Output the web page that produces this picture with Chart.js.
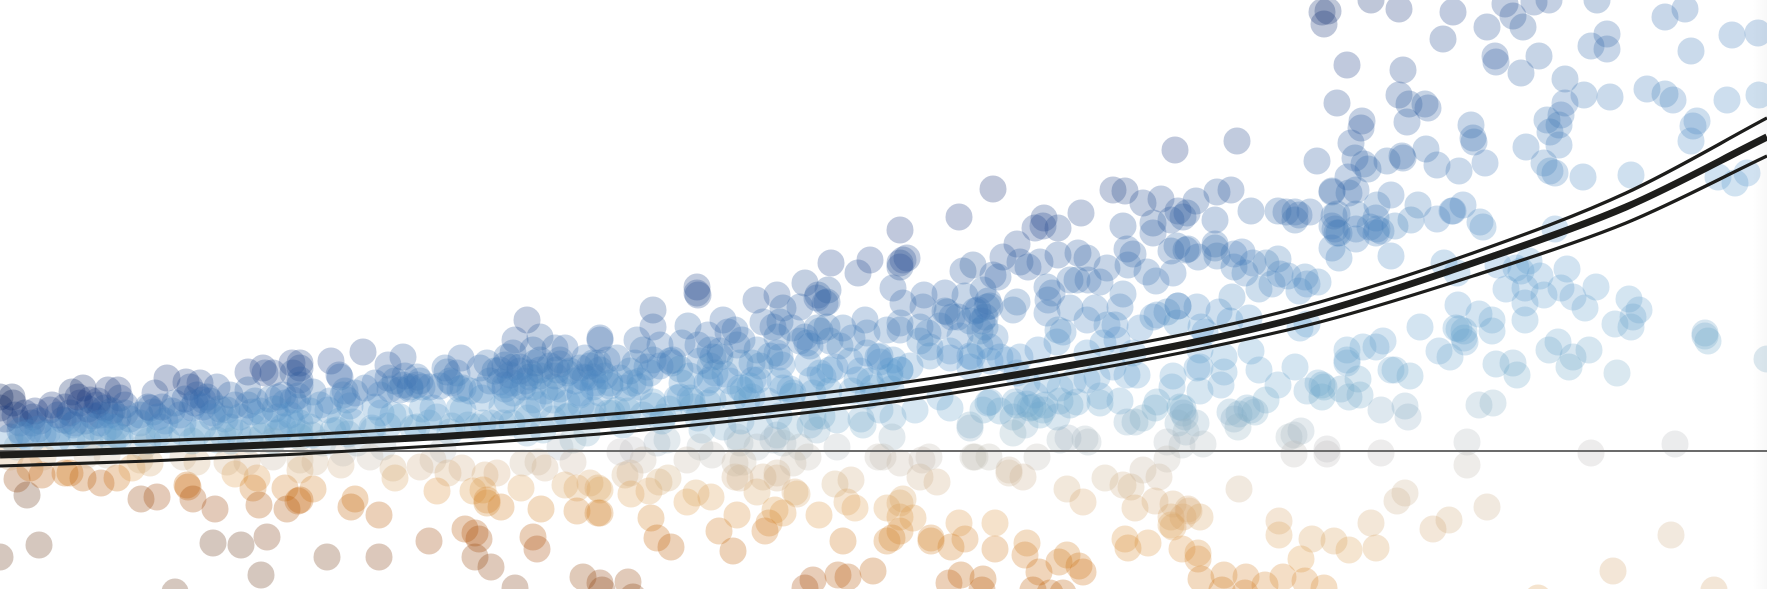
<!DOCTYPE html>
<html>
<head>
<meta charset="utf-8">
<title>Scatter with fitted curve</title>
<script src="https://cdn.jsdelivr.net/npm/chart.js@4"></script>
<style>
    html, body { margin: 0; padding: 0; width: 1767px; height: 589px; overflow: hidden; }
    body { background: linear-gradient(to right, #ffffff 99.2%, #f8f8f8 100%); }
    #wrap { width: 1767px; height: 589px; }
</style>
</head>
<body>
<div id="wrap"><canvas id="scatter-chart"></canvas></div>
<script>
// values, hidden axes run 0..176.7 and -13.8..45.1
const aboveX1 = [16.7,7.2,8.3,10.8,7.8,11.8,12,1.2,1.3,0,0,5.2,5,3.3,3.2,2,6.3,7.3,9,9.7,10,11,12.5,15,15.5,15.3,17.5,18.6,20,21.7,19,19.7,20.3,19.2,20.7,23,22.7,21.3,24.8,26.3,26.5,27.3,29.2,29.3,24.8,25.2,27.8,28.3,27.8,29.3,30,29.8,18.3,16,14,11.7,9.3,4.7,1,20.3,23,25.3,28.3,27.7,30,5.7,12,16.7,21.7,25,9,1.7,14.3]
const aboveY1 = [7.3,5.9,6.3,6.1,5.4,6.1,5.3,5.4,4.8,5.4,4.3,4.6,4.1,3.4,2.8,2.8,3.1,2.6,5.1,4.6,3.6,3.6,4.6,4.3,5.8,3.9,4.8,6.9,6.8,6.4,6.4,5.6,5.1,4.3,5.4,5.6,4.1,3.8,7.9,8.3,7.8,7.8,8.8,7.8,6.1,3.9,5.4,5.6,3.4,5.1,6.6,4.4,2.8,2.4,2.8,2.4,2.4,1.8,1.4,2.4,2.4,2.4,2.4,1.8,1.4,1.1,1.4,1.1,1.1,1.1,0.8,0.4,0.4]
const aboveX2 = [52.7,46.1,36.3,33.1,40.3,38.8,33.9,34,30,30,34.5,34.3,34.7,37.5,38.8,40,40.3,41,41.7,42.2,41.7,44.5,44.7,45.7,45.2,46.3,48,51.5,54,51.3,50.7,53.3,55.5,56.5,54,56,60,58.5,59.3,59.8,50,51.3,52,48.7,50.5,51.3,50,53,54,55.7,56.7,58.3,59.3,50.7,48.2,48.2,51.3,53.3,55.3,59.3,58,55.3,53.3,52.7,56.7,59.3,31.3,32,30,32.8,35.3,39.3,40,43.3,43.7,46.3,48.3,50.3,54.3,56.7,58.7,52.7,45,41.7,37.3,33.7,31,30,47.7,56,57.3,38.3,35.7,32.3,44.3]
const aboveY2 = [13.1,9.3,9.9,9,9.4,8.6,7.6,7.4,8.3,8.8,6,5.6,5.1,4.4,7.3,6.1,6.6,6.4,6.6,6.4,7.4,8.3,7.9,7.8,6.8,6.3,8.3,11.1,11.4,9.8,9.4,10.1,10.3,10.3,9.1,9.1,11.3,9.3,8.8,8.8,8.1,8.4,8.4,8.8,6.6,6.8,6.9,7.4,8.1,8.1,7.8,7.4,7.4,5.1,6.1,5.3,5.8,6.4,6.4,6.4,5.6,5.1,5.1,4.1,4.8,4.1,5.9,4.6,7.1,4.1,2.9,3.6,3.4,4.3,3.4,4.1,2.8,2.8,2.1,3.4,1.8,1.8,1.9,2.4,2.1,2.1,2.4,2.8,2.4,0.4,1.1,0.4,0.8,0.8,0.1]
const aboveX3 = [69.7,69.7,69.8,65.3,65.3,60,63.7,68.8,66,68.2,69.8,70.8,72.3,72.8,73.5,75.6,77.7,78.3,80.5,81.8,82.8,83.1,85.8,87,89.3,90,80,82.5,82.7,81.7,76.3,77.3,78,79.2,77.7,80.5,81.7,82.7,80.7,77.7,78,84.3,86.5,86.7,88.7,85.2,90,86.7,88,89.3,87.8,90,75.7,74.2,73.7,72,71.3,71,71.5,71,74,75.2,75.3,67.2,67.3,65.3,63.5,64.7,64.3,60.7,60,61.7,63.3,61,62.5,64,60,68.2,68,69,70.7,74.3,75.8,78.2,78.3,79.3,80.8,82,83,83.5,82.3,81.2,85.7,87.3,90,89,65.3,62.8,67.7,71.3,74.7,60.8,61.7,64.3,66.3,69.3,72.3,73.7,76,77.7,79,81,81.7,86.3,83.7,81.3,89.3,88,89.2,83.7,65.7,66.7,63.3,70.2,70,74,75.7,78.3,77.3,80]
const aboveY3 = [16.4,15.8,15.6,14.1,12.4,11.1,11.1,12.5,10.6,10.8,10.6,11.6,13.1,11.9,12.1,15.1,15.6,14.3,16.8,15.6,16.1,18.8,17.8,19.1,16.3,18.4,14.4,14.8,14.9,15.3,12.9,12.4,12.9,12.3,11.4,11.4,12.3,12.4,10.8,9.8,9.4,12.3,13.1,11.8,12.1,11.3,12.1,9.8,8.9,9.1,9.4,8.1,10.1,11.1,10.6,9.4,9.4,10.1,7.8,7.1,8.8,8.8,7.1,8.8,9.1,9.1,8.8,8.4,10.1,9.1,8.1,9.3,6.8,6.8,6.3,6.4,5.8,6.8,5.4,5.3,6.8,6.1,7.1,8.6,6.3,5.8,8.8,7.8,8.1,8.4,7.4,7.1,7.1,6.3,8.1,7.4,4.9,5.1,5.3,5.1,5.1,3.8,4.1,3.6,3.4,4.4,2.4,1.4,2.4,1.6,2.4,2.6,2.1,2.6,3.1,3.4,3.4,4.1,1.4,0.4,0.8,1.1,0.1,2.1,0.4,0.8,0.4,0.8,1.1,0.4]
const aboveX4 = [90,99.3,95.9,90.3,90.7,90,111.3,112.5,114.3,116.1,108.1,104.4,104.3,105.8,103.5,112.3,115.3,115.3,118.3,118.7,101.7,100.3,102,104,102.8,105.8,107.8,108.7,112.7,113.3,112.8,117.1,117.7,118.8,119.8,110.7,96.3,97.3,99.3,99.8,114.7,115.6,117.3,107.7,108.8,110,104.7,107,112.3,112,109.5,108.7,110.7,111.5,107,104.8,104.7,105.8,106.3,105.2,101.7,101.3,98.3,98.7,98.5,97.8,98.5,99.5,99,95.2,94.5,92.4,92.3,90.3,94.7,95.8,92,92.8,90,93,95,97.2,97,100,100.8,102,103.8,105.7,108.7,110.3,114,115.3,115.7,117.7,111.7,113.3,120,119.7,120,117.2,113.7,112.7,109.7,108.7,107.3,106,104.7,102.7,101.7,111.3,110,107.7,115.5,115.7,118.3,118,118.3,118.5,113.5,114.3,112.7,108.5,108.8,106,106.8,105.7,104.3,103.3,101.7,102.5,101.3,98.3,97,98.8,95,97,91.5,94,101.3]
const aboveY4 = [22.1,26.2,23.4,19.1,19.3,18.8,26.1,26,24.8,25.2,23.8,23.3,22.5,22.3,22.3,22.5,22.8,21.8,23.4,23.8,20.7,19.4,18.9,18.9,18.4,19.6,19.8,19.3,20.2,19.7,18.6,20,20.5,20.2,19.4,18.3,18,18.6,17.6,17.4,17.9,17,17.8,17.1,17.1,16.9,16.4,17.1,15.7,14.4,14.3,13.1,12.6,12.6,14.3,15.1,13.8,12.1,11.9,15.8,14.9,14.1,16.1,14.4,13.4,14.1,12.4,11.4,10.4,13.4,15.8,15.6,14.4,14.8,13.9,13.4,12.4,11.8,12.8,10.4,9.3,9.4,8.4,9.4,9.1,9.4,10.1,10.9,9.8,10.8,12.3,13.4,13.6,12.8,11.1,9.8,10.1,14.4,8.4,6.4,7.6,7.6,7.4,7.1,6.9,6.3,7.1,6.8,7.8,8.4,4.8,4.9,4.3,4.9,4.3,4.4,3.8,3.4,2.9,3.3,2.9,1.2,0.9,1.1,1.3,3.4,4.1,4.4,4.6,2.6,3.4,4.1,2.6,4.8,4.3,2.3,4.1,5.4,1.8,1.6,5.8]
const aboveX5 = [132.2,132.8,132.4,137.1,139.9,145.3,144.3,153.4,154.9,159.7,166.5,168.5,150.5,148.7,151.3,152.3,153.9,149.6,149.5,152.1,156.5,159.1,160.7,160.7,173.2,175.8,169.1,175.9,172.7,164.7,167.3,166.5,169.7,169.3,169.1,158.4,161,156.1,155.9,156.5,154.7,155,155.9,152.6,154.4,155,155.5,158.3,163.1,171.8,173.5,174.7,134.7,140.3,133.7,139.9,140.9,140.7,142.5,142.8,136.2,136.1,135.1,123.7,117.5,131.7,147.1,147.3,147.4,148.5,142.6,143.7,145.9,140.2,140.3,138.7,135.5,136.4,136.8,134.8,133.2,135.6,139.1,141.8,141.1,137.7,143.7,145.2,146.3,145.3,148,148.3,135.6,133.2,135.6,135.6,133.9,134.9,133.2,121.7,123.1,129.5,129.9,137.7,138.1,137.6,139.5,133.7,133.4,133.9,133.2,133.7,121.5,118.6,124.2,123.4,121.7,125.3,126.6,127.8,128,130.5,131.8,130.7,129.9,128.8,127.2,125.9,124.5,123.4,121.5,119.6,117.8,117.1,121.5,125.1,127.8,128.6,131,129.5,133.5,137,139.1,137.6,144.4,145.7,151.6,154,152.9,152.1,156.7,159.6,162.9,152.5,155.5,149.8,145.8,152.5,154.4,156.1,157.3,158.5,163.9,163.3,161.5,163.1,170.5,170.5,170.8,176.7,154.9,157.3,156.9,151.3,149.2,147.9,142,145.9,146.4,149.2,150.6,152.5,146.4,155.8,158.9,143.9,145,145.6,146.5,149.6,139.1,141,139.5,138.3,136.3,134.7,137.6,130.7,130,129.5,125.1,123,120.5,121.9,120.1,117.8,117.8,116.7,123.2,124.9,125.9,119.7,117.3,122.4,122.1,120,122.4,134.7,134.7,132.4,127.8,130.7,132.2,131.8,134.1,135.8,136,138.1,140.8,140.5,134.9,132.2,126.6,124.7,123,123.4,123.8,125.5,125.1,123.9,119.6,118.2,117.8,118.6,116.7,120.3,129.4,128.9,130.1,147.9,149.3,151.7,161.7,159.1,167.5,146.7,132.7,138.1,129.4,132.7]
const aboveY5 = [43.9,44,42.7,45.1,44.2,43.9,41.2,44.9,45.1,45.1,43.4,44.2,44.7,42.4,43.5,42.4,39.5,38.9,39.5,37.8,37.2,40.5,40.2,41.7,41.6,41.8,40,35.6,35.1,36.2,35.1,35.7,33,32.5,31,35.6,35.4,33.6,32.6,34.8,33.1,31.9,30.6,30.4,28.8,28,27.8,27.4,27.6,27.4,26.8,27.8,38.6,38.1,34.8,35.6,34.7,32.9,34.7,34.3,33,32.3,30.8,31,30.1,29,32.6,31.3,30.9,28.8,30.2,28.6,28,29.5,29.3,29,29.3,28.7,28.2,27.4,25.9,26.1,25.6,24.6,23.1,24.6,23.2,24,24.6,24,22.9,22.4,23.7,22.5,22.2,21.2,19.3,25.8,26,25.9,26.1,23.9,23.6,22.2,22,23.3,22.5,23.7,23.5,21.8,20.3,21.8,20.3,20.1,19.9,19.7,19.5,18.8,18.8,19.2,17.7,17.4,16.9,16.7,16,17.5,16.7,16.2,17.8,18.4,20.7,25,24,23.1,23.1,24,24,23.9,23.9,23.1,22.2,22.4,19.5,21.8,18.8,17.8,18.3,17.5,19,18,18.2,16.4,15.2,14.8,22.2,18.6,14.6,16.3,15.6,16.3,15.4,14.3,14.1,13.4,12.7,12.4,11.8,11.5,11,9.2,10.1,9.4,8.4,8.8,12,13.7,12.4,12.2,11.3,13.1,16.2,13.1,12,10.9,10.1,10,9.4,12.3,10.9,8.7,8.1,7.5,8.1,11,10.4,9.1,10.4,12.7,12.3,8.4,10,13,11.9,13.9,12.4,14.5,14.5,13.9,15.4,13.3,8.1,8.3,7.5,7.9,6.6,6,9.4,10.1,8.8,6.4,6.6,6,6.6,6.8,6.2,7.2,5.6,4.1,3.4,4.5,5.4,5.4,5.1,4.3,3.9,3.2,2.4,3.9,4.1,3.7,2.8,0.6,2.8,1.9,0.9,0.7,1.6,1.4,2,4.6,4.8,7.6,7.8,-0.2,0.7,0.9,-0.3]
const lowerX = [0,3.9,2.7,1.7,3,4.2,6.5,7,8.3,10.1,11.7,13.2,15,14.1,15.7,18.7,18.8,19.3,21.5,23.5,25.7,25.3,25.9,28.5,28.7,29.8,21.3,24.1,26.7,26.1,17.5,18.3,19.7,22.7,24.7,27.3,30,4.3,1,10.7,14,8.7,30,31.3,30,35.5,35.1,37.9,39.5,39.3,34.1,31.5,37,34.3,42,43.3,44.8,43.7,46.2,47.3,48.5,49.7,48.3,48.7,48.7,50.1,52.1,52.3,53.8,54.5,57.3,54.1,56.5,57.7,59,59.8,57.7,59.8,42.9,46.5,47.5,47.9,47.5,49.1,53.3,53.7,32.7,37.9,51.5,58.3,60,60,60,62.5,63,63.1,64.9,65.9,66.8,65.1,65.7,67.1,68.7,69.6,71.1,71.9,73.7,73.3,74,75.7,76.3,77.7,79.5,79.7,77.7,77.5,78.3,76.9,76.5,84.3,85.1,83.5,84.7,85.5,81.9,88.7,88.7,90,90,89.2,73.5,81.3,83.8,84.8,87.3,80.5,60.2,62.8,63.3,64.3,68.7,71.2,73.5,74.3,80.8,79.3,88.3,87.8,62,97.5,97.3,98.9,100.9,100.9,92.2,92,90,103.7,102.3,106.7,108.3,110.5,112.3,113.1,114.3,115.9,93.7,92.9,90.3,90,91.3,93.1,93.1,96.5,99.5,99.5,95.9,95.1,102.5,103.9,102.7,106.7,105.9,107.9,108.3,112.5,114.8,113.5,115.5,117.3,117.1,118.8,117.1,118.3,119.8,119.8,112.8,98.3,98.2,96.1,94.9,103.3,106.3,105,124.5,123.9,117.3,118.9,120,118.2,130.1,127.9,127.9,131.2,133.4,134.9,139.7,140.5,137.1,143.3,144.9,148.7,137.6,167.1,161.3,171.4,120.1,122.4,124.6,126.5,128.3,130.5,132.4,122.2,153.8,129.4,132.7,138.1,146.7,116.7]
const lowerY = [-10.6,-9.4,-4.4,-2.8,-1.7,-2.4,-2.2,-2.2,-2.7,-3.2,-2.7,-1.7,-1.2,-4.8,-4.6,-3.4,-3.6,-4.8,-5.8,-2.3,-2.7,-3.7,-5.4,-3.7,-5.8,-5,-9.2,-9.4,-8.6,-12.4,-14.1,-0.6,-1.1,-1.1,-1.1,-0.6,-1.9,-0.6,-0.6,-0.4,-0.9,-0.4,-0.9,-3.8,-4.9,-4.8,-5.6,-6.4,-2.7,-1.7,-1.4,-1.1,-0.6,-0.2,-1.6,-0.9,-2.2,-4,-1.7,-4,-2.4,-2.2,-3.9,-4.9,-5.2,-5.6,-3.7,-1.2,-1.1,-1.7,-1.1,-5.8,-3.4,-3.7,-3.2,-3.7,-6,-6.2,-9,-7.8,-8.2,-8.8,-10.6,-11.6,-8.6,-9.8,-10.6,-10.6,-13.7,-12.6,-13.2,-3.9,-6.2,-2.4,-2.2,-4.3,-4,-3.1,-2.7,-6.7,-8.7,-9.6,-5.1,-4.2,-4.6,-8,-6.4,-10,-2.7,-4.1,-2.6,-2.2,-4.1,-4.3,-2.7,-5.9,-6.2,-7.2,-8,-9,-2.9,-3.3,-5.1,-5.7,-6.4,-9,-5.7,-8,-6.6,-8.7,-2.6,-12.9,-12.4,-12.6,-12,-13.7,-13.9,-13.1,-14.6,-0.9,-0.9,-0.4,-1.2,-1.1,-0.6,-1.2,-0.6,-0.6,-0.1,-0.6,-0.6,-0.6,-1.9,-2.2,-0.9,-2.6,-1.2,-0.6,-2.6,-3.8,-5.1,-2.7,-3.4,-3.6,-1.9,-2.6,-3.1,-0.6,-4.8,-5.2,-6.7,-8.7,-9,-8.8,-9.8,-7.2,-7.2,-9.6,-10.4,-12.1,-9.2,-10.4,-11.1,-11.5,-12.1,-8.8,-9.2,-5.7,-5,-7.6,-7.4,-5.8,-6.6,-6.6,-10.2,-10.8,-9.7,-12.8,-13.9,-12.4,-13.2,-13.9,-14.2,-14.2,-14.2,-3.8,-5.3,-6,-6.6,-9.8,-10.8,-7,-8.4,-8.8,-9,-9.9,-5,-4.2,-7.2,-7.8,-6.9,-5.6,-9.7,-8.4,-12,-13.9,-12.8,-12.4,-12.6,-13.4,-12.6,-13,-13.7,-13.9,-14.7,-0.3,0.2,-0.2,-1.4,-0.8]
// the crowded band, where single points can only be estimated
const bandX = [0.5,1.5,2.5,2,3.5,4,2.8,3.8,6.5,7,8,8.8,9.3,9.8,10.5,11.2,11.8,12.5,13,5.8,6.8,7.5,8.5,10,11,14,14.8,15.8,16.5,16.2,17.2,18,18.5,19.5,20.3,21,21.2,22,22.5,23.5,24,24.8,25.5,26,26.5,27,27.5,28.5,29,29.8,29.2,2.2,4.3,5.8,8.1,10.3,11.8,14.2,15.9,18.2,19.7,22.3,23.8,26.2,27.9,30,3.1,7.2,11.3,14.8,19.2,23.1,27.3,31,33,35,35.5,36.5,37.5,38,39,39.5,40.5,41,42,43,44,45,46,47,49,49.5,50.5,51,52,52.5,53,53.5,54,55,55.5,56,57,57.5,58,58.5,59,59.5,50.5,52.3,54.5,56,58,31.2,33.3,34.8,37.2,38.8,41.3,42.9,45.2,46.8,49.1,51.2,52.8,55.3,56.8,59.2,34,38.1,42.2,45.9,50.2,53.9,58.1,60.5,61,62,63,64,65,66,67,68,69,70,71,72,72.5,73,74,75,76,77,78,79,80,81,82,83,84,85,86,87,88,89,61.2,62.8,65.3,66.9,69.2,70.8,73.3,75.2,76.8,79.2,81.3,82.9,85.2,86.8,89.1,62.3,66.2,69.8,74.1,77.9,82.2,86.1,97.5,98.2,98.8,98,99,97,100,103,107,110,104,112,101.5,102.7,104.5,99,106,103.5,92,94,96,98,93,95,97,99,91,94.5,96.5]
const bandY = [3.2,3.6,3.8,2,4,3,1.8,2.2,4.4,3.8,4.8,4.2,3.5,5,4.3,4,3.4,3.8,3.2,3.6,3,2.8,3,2.8,2.4,3.6,4.4,3.4,3,4.4,4,3.6,5.2,4.8,4.4,5,3.4,4.2,3.2,4.6,3.4,4.6,5,4,3,5.2,4.2,4.8,3.6,5.5,2.8,1.6,1.7,1.9,1.6,1.8,1.5,1.8,1.7,1.9,1.7,1.6,1.8,1.5,1.9,1.8,1,1,0.9,1,1,1,1,4,5,4.5,5.8,6.3,6.8,5.6,6.2,7,7.5,6.2,7,6.4,6.5,7,6.2,6,7,8,8.6,7.6,8,7,7.8,8.8,7.5,8.5,7.5,8.7,8,7,8.3,7.3,8.5,6.8,6.2,6.4,6,6.2,5.8,1.6,2,1.7,2.3,2.5,2.3,2.8,2.5,2.6,2.8,2.8,3.3,3.2,3.5,3.5,3,3.8,4.2,4.2,4.4,4.6,4.6,7.5,6.5,7.3,8,7,7.8,8.5,9,8.2,7.5,9,8.5,10,7.7,7,6.3,6.5,8.5,9.5,7,6.2,11,10.5,12,11,10.5,9,8,7,9.5,8,3.8,4,4.5,4.2,5,4.8,5.2,5.4,5,5.5,5.8,6,6,5.5,6.2,2.6,3,3.3,3,3.5,3.5,3.2,14,13,15,12,14.5,13,4,4.3,4.6,5.5,3.6,5,4.9,4.7,4.6,4.9,5,5.6,11,12.5,11.5,10.5,9.5,10,9.5,9,8.5,14,15.5]

const curveX = [0,15,30,45,60,75,90,105,120,132,147.3,162.6,176.7]
const fitValues = [-0.4,0.1,0.75,1.5,2.6,4,5.8,8.2,11,13.9,18.8,24.4,31.4]
const upperBand = [0.5,1,1.6,2.5,3.6,5,6.8,9.2,12,14.9,19.8,25.8,33.3]
const lowerBand = [-1.5,-1,-0.3,0.6,1.7,3.2,5,7.4,10.2,12.9,17.5,22.8,29.5]
const zeroX = [0,176.7]
const zeroY = [0,0]

// point colour runs from brown through grey to navy, by value against a spread that widens to the right
const colourStops = [
    [-0.8, [105,55,22]], [-0.5, [158,65,0]], [-0.35, [198,98,0]], [-0.2, [222,155,72]], [-0.07, [205,178,145]],
    [0, [188,188,188]], [0.1, [112,168,202]], [0.25, [88,152,205]], [0.5, [48,98,165]], [0.7, [28,58,128]], [1, [8,32,90]]
]

function pointColour(x, y) {
    const over = Math.max(0, x - 100)
    let t = y * 10 / (45 + 3 * x + 0.1 * over * over)
    t = Math.max(-0.8, Math.min(1, t))
    for (let i = 1; i < colourStops.length; i++) {
        if (t <= colourStops[i][0]) {
            const [t0, c0] = colourStops[i - 1]
            const [t1, c1] = colourStops[i]
            const f = (t - t0) / (t1 - t0)
            const c = c0.map((v, k) => Math.round(v + (c1[k] - v) * f))
            return `rgba(${c[0]},${c[1]},${c[2]},0.28)`
        }
    }
    return 'rgba(8,32,90,0.28)'
}

function zip(xs, ys) {
    return xs.map((x, i) => ({x: x, y: ys[i]}))
}

const points = [
    ...zip(aboveX1, aboveY1), ...zip(aboveX2, aboveY2), ...zip(aboveX3, aboveY3),
    ...zip(aboveX4, aboveY4), ...zip(aboveX5, aboveY5), ...zip(lowerX, lowerY),
    ...zip(bandX, bandY)
]

function curveDataset(label, values, width) {
    return {
        type: 'line',
        label: label,
        data: zip(curveX, values),
        borderColor: '#1d1d1b',
        borderWidth: width,
        cubicInterpolationMode: 'monotone',
        pointRadius: 0,
        fill: false,
        order: 1
    }
}

new Chart(document.getElementById('scatter-chart'), {
    type: 'scatter',
    data: {
        datasets: [
            curveDataset('Fit', fitValues, 7),
            curveDataset('Upper', upperBand, 3.2),
            curveDataset('Lower', lowerBand, 3.2),
            {
                type: 'line',
                label: 'Zero',
                data: zip(zeroX, zeroY),
                borderColor: '#6b6b6b',
                borderWidth: 2,
                pointRadius: 0,
                order: 2
            },
            {
                label: 'Observations',
                data: points,
                backgroundColor: ctx => ctx.raw ? pointColour(ctx.raw.x, ctx.raw.y) : 'transparent',
                borderWidth: 0,
                pointRadius: 13.5,
                order: 3
            }
        ]
    },
    options: {
        animation: false,
        responsive: true,
        maintainAspectRatio: false,
        layout: { padding: 0, autoPadding: false },
        plugins: {
            legend: { display: false },
            tooltip: { enabled: false }
        },
        scales: {
            x: { type: 'linear', display: false, min: 0, max: 176.7 },
            y: { display: false, min: -13.8, max: 45.1 }
        }
    }
})
</script>
</body>
</html>
